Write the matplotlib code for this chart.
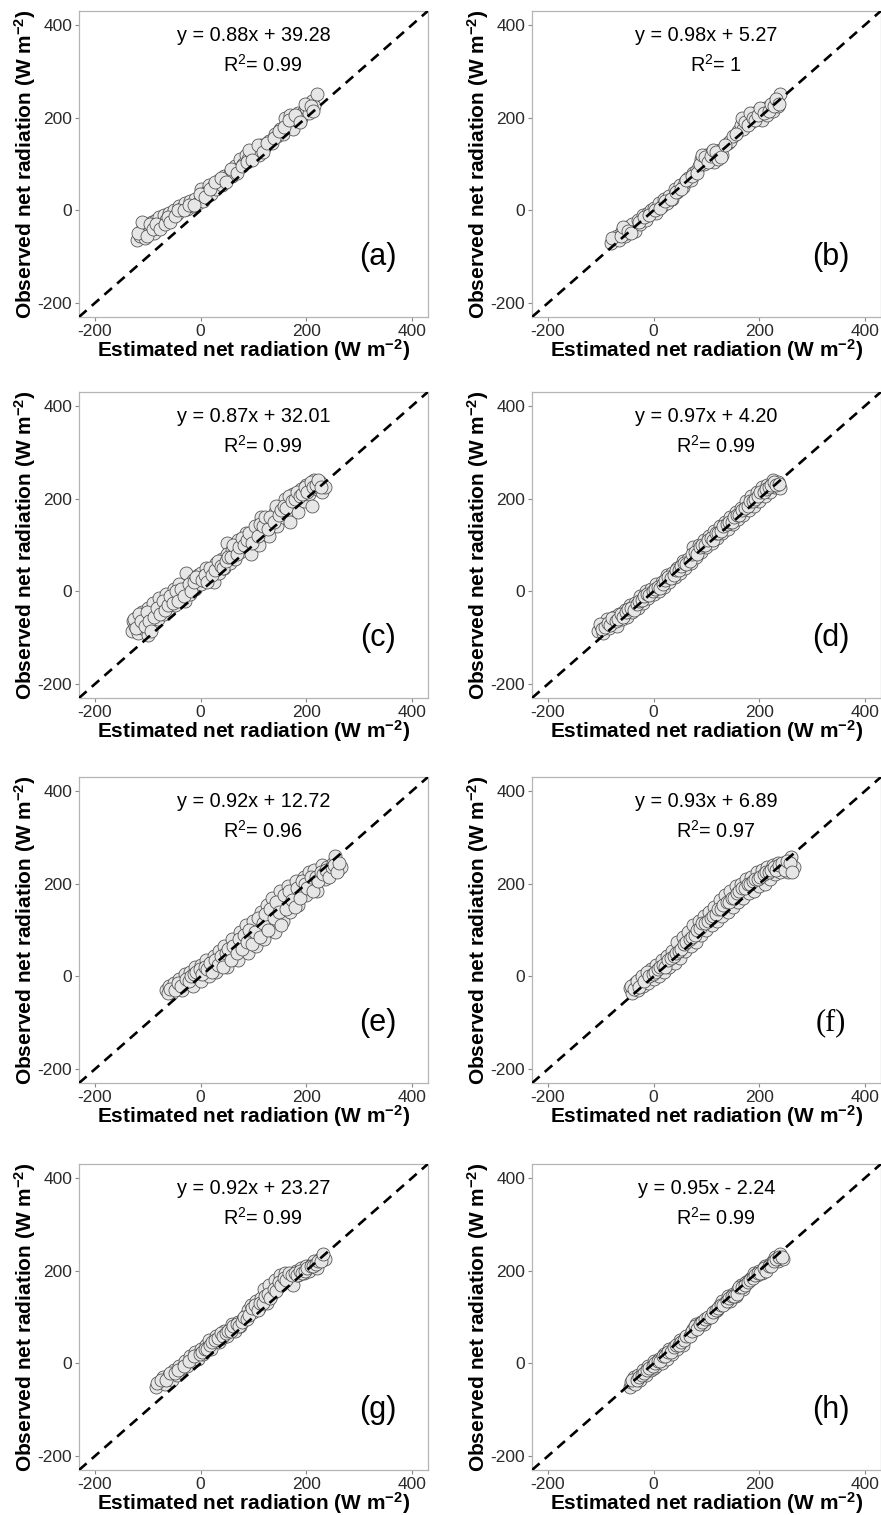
import numpy as np
import matplotlib.pyplot as plt

plt.rcParams['font.family'] = ['Liberation Sans', 'DejaVu Sans']
plt.rcParams['axes.unicode_minus'] = False
plt.rcParams['mathtext.default'] = 'regular'

# panel letters, fit equations and R2
letters = ['a', 'b', 'c', 'd', 'e', 'f', 'g', 'h']
equations = ['y = 0.88x + 39.28', 'y = 0.98x + 5.27', 'y = 0.87x + 32.01', 'y = 0.97x + 4.20',
             'y = 0.92x + 12.72', 'y = 0.93x + 6.89', 'y = 0.92x + 23.27', 'y = 0.95x - 2.24']
r2_values = ['0.99', '1', '0.99', '0.99', '0.96', '0.97', '0.99', '0.99']
ticks = [-200, 0, 200, 400]

# (estimated, observed) pairs, estimated by eye from each panel
pts_a = [(-120, -65), (-115, -55), (-112, -45), (-108, -35), (-105, -60), (-100, -30), (-100, -45),
         (-95, -40), (-92, -25), (-88, -50), (-85, -20), (-80, -35), (-78, -15), (-72, -25), (-70, -10),
         (-65, -20), (-60, -5), (-55, -15), (-50, 0), (-45, -8), (-40, 10), (-35, 5), (-30, 15), (-25, 2),
         (-20, 20), (-15, 10), (-10, 25), (-5, 15), (0, 30), (0, 45), (5, 20), (10, 40), (15, 55), (20, 35),
         (25, 55), (30, 45), (35, 65), (40, 55), (45, 75), (50, 70), (55, 80), (60, 75), (65, 95), (70, 90),
         (75, 110), (80, 100), (85, 120), (90, 110), (95, 125), (100, 115), (105, 130), (110, 120),
         (115, 140), (120, 135), (130, 150), (135, 145), (140, 165), (145, 160), (150, 175), (155, 165),
         (160, 200), (165, 185), (170, 205), (175, 175), (180, 195), (185, 210), (190, 200), (195, 215),
         (200, 220), (205, 210), (210, 235), (215, 225), (220, 250),
         (-118, -50), (-110, -25), (-102, -55), (-96, -30), (-90, -40), (-84, -30), (-76, -40), (-68, -30),
         (-62, -15), (-58, -25), (-48, -12), (-42, 0), (-32, 0), (-22, 12), (-12, 12), (-2, 35), (8, 28),
         (18, 45), (28, 60), (38, 70), (48, 60), (58, 88), (68, 80), (78, 95), (88, 105), (92, 130),
         (98, 108), (108, 140), (118, 125), (125, 145), (138, 155), (148, 170), (158, 180), (168, 195),
         (178, 205), (188, 190), (198, 230), (208, 225), (212, 215)]
pts_b = [(-80, -70), (-75, -60), (-70, -55), (-65, -65), (-60, -45), (-55, -55), (-50, -35), (-50, -50),
         (-45, -40), (-40, -30), (-35, -45), (-30, -20), (-25, -30), (-20, -10), (-15, -20), (-10, -5),
         (-5, 0), (0, 5), (5, -5), (10, 15), (15, 10), (20, 25), (25, 15), (30, 30), (35, 25), (40, 45),
         (45, 40), (50, 55), (55, 50), (60, 60), (65, 70), (70, 65), (75, 80), (80, 85), (85, 95), (90, 110),
         (95, 100), (100, 120), (105, 110), (110, 125), (115, 105), (120, 115), (125, 130), (130, 120),
         (140, 145), (145, 150), (150, 160), (160, 170), (165, 185), (170, 175), (175, 195), (180, 200),
         (185, 190), (190, 210), (195, 200), (200, 215), (205, 195), (210, 220), (215, 205), (220, 225),
         (225, 215), (230, 235), (235, 225), (240, 250),
         (-78, -60), (-62, -55), (-58, -35), (-48, -45), (-42, -50), (-28, -25), (-18, -15), (-8, -10),
         (2, 0), (12, 5), (22, 20), (32, 25), (42, 40), (52, 45), (62, 65), (72, 75), (82, 80), (88, 100),
         (92, 120), (98, 115), (102, 105), (108, 118), (112, 130), (118, 125), (122, 110), (128, 115),
         (135, 140), (155, 165), (168, 200), (172, 190), (178, 185), (182, 210), (188, 200), (192, 195),
         (198, 205), (202, 220), (208, 210), (218, 215), (222, 230), (228, 225), (232, 240), (238, 230)]
pts_c = [(-130, -85), (-128, -65), (-125, -75), (-120, -55), (-118, -90), (-115, -70), (-110, -45),
         (-110, -80), (-105, -60), (-100, -95), (-100, -35), (-95, -50), (-92, -70), (-90, -25), (-85, -45),
         (-80, -60), (-78, -15), (-75, -35), (-70, -50), (-65, -5), (-65, -25), (-60, -40), (-55, -15),
         (-50, 5), (-48, -30), (-45, -10), (-40, 15), (-35, -5), (-30, -20), (-28, 40), (-25, 10), (-20, -5),
         (-15, 25), (-10, 5), (-5, 35), (0, 15), (0, 40), (5, 25), (10, 50), (15, 30), (20, 45), (25, 20),
         (30, 60), (35, 40), (40, 70), (45, 50), (50, 105), (50, 80), (55, 60), (60, 90), (65, 70), (70, 110),
         (75, 85), (80, 95), (85, 125), (90, 100), (95, 80), (100, 115), (105, 135), (110, 100), (115, 160),
         (120, 130), (125, 150), (130, 120), (135, 145), (140, 170), (145, 140), (150, 185), (155, 160),
         (160, 200), (165, 175), (170, 150), (175, 210), (180, 190), (185, 170), (190, 220), (195, 195),
         (200, 230), (205, 210), (210, 185), (215, 240), (220, 220), (225, 235), (230, 215), (235, 225),
         (-126, -60), (-122, -80), (-116, -50), (-112, -65), (-106, -75), (-102, -45), (-98, -65),
         (-94, -85), (-88, -55), (-82, -35), (-76, -50), (-72, -20), (-68, -40), (-62, -30), (-58, -10),
         (-52, -25), (-46, 0), (-42, -20), (-38, 5), (-32, -10), (-22, 15), (-18, 0), (-12, 20), (-8, 30),
         (2, 25), (8, 35), (12, 20), (18, 50), (22, 35), (28, 45), (32, 65), (38, 55), (42, 50), (48, 65),
         (52, 75), (58, 75), (62, 100), (68, 80), (72, 95), (78, 115), (82, 100), (88, 110), (92, 125),
         (98, 105), (102, 140), (108, 120), (112, 145), (118, 140), (122, 160), (128, 135), (132, 160),
         (138, 150), (142, 185), (148, 165), (152, 175), (158, 185), (162, 180), (168, 205), (172, 195),
         (178, 200), (182, 215), (188, 205), (192, 210), (198, 225), (202, 215), (208, 235), (212, 225),
         (218, 230), (222, 240), (228, 225)]
pts_d = [(-105, -85), (-100, -75), (-95, -90), (-90, -70), (-88, -60), (-85, -80), (-80, -65), (-75, -55),
         (-70, -75), (-65, -50), (-60, -60), (-55, -40), (-50, -55), (-45, -30), (-40, -45), (-35, -25),
         (-30, -35), (-25, -10), (-20, -25), (-15, 0), (-10, -15), (-5, 5), (0, -5), (5, 15), (10, 0),
         (15, 20), (20, 10), (25, 35), (30, 20), (35, 40), (40, 30), (45, 50), (50, 40), (55, 65), (60, 50),
         (65, 70), (70, 60), (75, 95), (80, 75), (85, 100), (90, 85), (95, 110), (100, 95), (105, 120),
         (110, 105), (115, 130), (120, 115), (125, 140), (130, 125), (135, 150), (140, 135), (145, 160),
         (150, 145), (155, 170), (160, 155), (165, 180), (170, 165), (175, 195), (180, 175), (185, 205),
         (190, 185), (195, 215), (200, 195), (205, 225), (210, 205), (215, 230), (220, 215), (225, 240),
         (230, 225), (235, 235), (240, 222),
         (-102, -70), (-98, -82), (-92, -78), (-86, -68), (-82, -72), (-78, -58), (-72, -65), (-68, -60),
         (-62, -48), (-58, -55), (-52, -45), (-48, -38), (-42, -35), (-38, -40), (-32, -28), (-28, -20),
         (-22, -18), (-18, -10), (-12, -5), (-8, -8), (-2, 0), (2, 5), (8, 10), (12, 8), (18, 15), (22, 25),
         (28, 30), (32, 28), (38, 35), (42, 45), (48, 45), (52, 55), (58, 60), (62, 58), (68, 65), (72, 80),
         (78, 85), (82, 80), (88, 95), (92, 100), (98, 100), (102, 110), (108, 115), (112, 110), (118, 125),
         (122, 125), (128, 130), (132, 140), (138, 145), (142, 150), (148, 150), (152, 160), (158, 165),
         (162, 165), (168, 175), (172, 180), (178, 185), (182, 195), (188, 195), (192, 200), (198, 205),
         (202, 215), (208, 215), (212, 220), (218, 225), (222, 230), (228, 235), (232, 230), (238, 232)]
pts_e = [(-65, -30), (-60, -20), (-55, -35), (-50, -15), (-45, -25), (-40, -5), (-35, -30), (-30, 5),
         (-25, -15), (-20, 10), (-15, -20), (-10, 20), (-5, 0), (0, 25), (0, -10), (5, 10), (10, 35), (15, 0),
         (20, 20), (25, 45), (30, 10), (35, 55), (40, 30), (45, 65), (50, 20), (55, 40), (60, 80), (65, 55),
         (70, 35), (75, 95), (80, 70), (85, 110), (90, 50), (95, 85), (100, 120), (105, 65), (110, 100),
         (115, 140), (120, 80), (125, 155), (130, 115), (135, 170), (140, 95), (145, 135), (150, 185),
         (155, 120), (160, 160), (165, 195), (170, 140), (175, 180), (180, 205), (185, 155), (190, 190),
         (195, 215), (200, 175), (205, 225), (210, 200), (215, 230), (220, 185), (225, 215), (230, 240),
         (235, 210), (240, 235), (245, 225), (250, 245), (255, 260), (260, 230), (265, 235),
         (-62, -35), (-58, -28), (-48, -30), (-42, -15), (-38, -20), (-28, -5), (-22, -10), (-18, 0),
         (-12, 5), (-8, 10), (-2, 15), (2, 5), (8, 20), (12, 15), (18, 30), (22, 10), (28, 35), (32, 25),
         (38, 45), (42, 20), (48, 50), (52, 60), (58, 35), (62, 65), (68, 50), (72, 80), (78, 60), (82, 90),
         (88, 75), (92, 100), (98, 70), (102, 95), (108, 125), (112, 85), (118, 115), (122, 135), (128, 100),
         (132, 145), (138, 125), (142, 160), (148, 140), (152, 110), (158, 175), (162, 145), (168, 185),
         (172, 165), (178, 150), (182, 190), (188, 170), (192, 205), (198, 200), (202, 190), (208, 215),
         (212, 185), (218, 215), (222, 205), (228, 225), (232, 220), (238, 230), (242, 215), (248, 235),
         (252, 240), (258, 225), (262, 245)]
pts_f = [(-45, -25), (-40, -35), (-35, -15), (-30, -30), (-25, -5), (-20, -20), (-15, 5), (-10, -15),
         (-5, 15), (0, -5), (5, 25), (10, 0), (15, 35), (20, 10), (25, 45), (30, 20), (35, 55), (40, 30),
         (45, 75), (50, 40), (55, 85), (60, 55), (65, 95), (70, 65), (75, 110), (80, 75), (85, 120), (90, 90),
         (95, 130), (100, 100), (105, 140), (110, 110), (115, 150), (120, 120), (125, 165), (130, 130),
         (135, 175), (140, 140), (145, 185), (150, 150), (155, 195), (160, 160), (165, 200), (170, 170),
         (175, 210), (180, 180), (185, 215), (190, 185), (195, 225), (200, 195), (205, 230), (210, 200),
         (215, 235), (220, 210), (225, 240), (230, 220), (235, 245), (240, 225), (245, 235), (250, 240),
         (255, 225), (260, 258), (265, 235),
         (-42, -20), (-38, -28), (-32, -10), (-28, -22), (-22, 0), (-18, -10), (-12, 10), (-8, 0), (-2, 5),
         (2, 10), (8, 15), (12, 20), (18, 25), (22, 20), (28, 35), (32, 40), (38, 45), (42, 50), (48, 55),
         (52, 60), (58, 70), (62, 75), (68, 80), (72, 85), (78, 90), (82, 100), (88, 105), (92, 115),
         (98, 115), (102, 120), (108, 125), (112, 130), (118, 135), (122, 145), (128, 145), (132, 155),
         (138, 160), (142, 160), (148, 170), (152, 170), (158, 180), (162, 185), (168, 190), (172, 190),
         (178, 200), (182, 200), (188, 205), (192, 210), (198, 210), (202, 215), (208, 220), (212, 225),
         (218, 225), (222, 230), (228, 235), (232, 230), (238, 240), (242, 245), (248, 230), (252, 250),
         (258, 245), (262, 225)]
pts_g = [(-85, -50), (-78, -40), (-72, -30), (-68, -45), (-60, -25), (-55, -35), (-50, -15), (-45, -25),
         (-40, -5), (-35, -10), (-30, 5), (-25, -5), (-20, 15), (-15, 5), (-10, 25), (-5, 10), (0, 30),
         (5, 20), (10, 40), (15, 50), (20, 30), (25, 45), (30, 60), (35, 45), (40, 55), (45, 70), (50, 60),
         (55, 75), (60, 85), (65, 70), (70, 90), (75, 80), (80, 95), (85, 105), (90, 115), (95, 125),
         (100, 110), (105, 135), (110, 120), (115, 140), (120, 160), (125, 130), (130, 170), (135, 150),
         (140, 180), (145, 165), (150, 190), (155, 175), (160, 195), (165, 180), (170, 185), (175, 170),
         (180, 200), (185, 190), (190, 205), (195, 195), (200, 210), (205, 200), (210, 215), (215, 220),
         (220, 205), (225, 225), (230, 230), (235, 225),
         (-82, -42), (-75, -35), (-65, -35), (-58, -20), (-48, -20), (-42, -15), (-32, -5), (-22, 5),
         (-12, 15), (-2, 20), (2, 25), (8, 30), (12, 30), (18, 40), (22, 45), (28, 50), (32, 55), (38, 65),
         (42, 60), (48, 65), (52, 70), (58, 70), (62, 80), (68, 85), (72, 80), (78, 90), (82, 100), (88, 95),
         (92, 105), (98, 120), (102, 125), (108, 115), (112, 130), (118, 130), (122, 145), (128, 150),
         (132, 140), (138, 160), (142, 155), (148, 175), (152, 170), (158, 185), (162, 180), (168, 195),
         (172, 190), (178, 195), (182, 190), (188, 200), (192, 195), (198, 200), (202, 205), (208, 210),
         (212, 210), (218, 215), (222, 220), (228, 220), (232, 235)]
pts_h = [(-45, -50), (-42, -40), (-38, -30), (-35, -45), (-30, -25), (-25, -35), (-20, -15), (-15, -25),
         (-10, -5), (-5, -15), (0, 5), (0, -10), (5, -5), (10, 10), (15, 0), (20, 20), (25, 10), (30, 30),
         (35, 20), (40, 35), (45, 30), (50, 50), (55, 40), (60, 55), (65, 60), (70, 65), (75, 75), (80, 85),
         (85, 80), (90, 90), (95, 85), (100, 95), (105, 100), (110, 105), (115, 110), (120, 115), (125, 125),
         (130, 135), (135, 130), (140, 145), (145, 135), (150, 150), (155, 145), (160, 160), (165, 170),
         (170, 160), (175, 175), (180, 180), (185, 185), (190, 195), (195, 190), (200, 200), (205, 195),
         (210, 210), (215, 205), (220, 215), (225, 220), (230, 230), (235, 220), (240, 235), (245, 225),
         (-40, -35), (-32, -35), (-28, -30), (-22, -25), (-18, -20), (-12, -15), (-8, -10), (-2, -5),
         (2, 0), (8, 5), (12, 5), (18, 15), (22, 15), (28, 25), (32, 25), (38, 35), (42, 40), (48, 40),
         (52, 45), (58, 50), (62, 60), (68, 60), (72, 70), (78, 80), (82, 75), (88, 85), (92, 90), (98, 95),
         (102, 100), (108, 100), (112, 110), (118, 115), (122, 120), (128, 125), (132, 125), (138, 135),
         (142, 140), (148, 145), (152, 145), (158, 150), (162, 165), (168, 165), (172, 170), (178, 175),
         (182, 180), (188, 185), (192, 190), (198, 195), (202, 195), (208, 205), (212, 200), (218, 210),
         (222, 210), (228, 220), (232, 225), (238, 230), (242, 230)]
all_pts = [pts_a, pts_b, pts_c, pts_d, pts_e, pts_f, pts_g, pts_h]

lim = (-230, 430)
lefts = [0.0897, 0.6039]
bottoms = [0.7908, 0.5393, 0.2851, 0.0297]
w, h = 0.396, 0.202

fig = plt.figure(figsize=(8.81, 15.15), dpi=100)

for i, pts in enumerate(all_pts):
    ax = fig.add_axes([lefts[i % 2], bottoms[i // 2], w, h])
    xy = np.array(pts, dtype=float)
    ax.scatter(xy[:, 0], xy[:, 1], s=88, facecolor='#e6e6e6', edgecolor='#4a4a4a',
               linewidth=0.55, zorder=2)
    ax.plot(lim, lim, color='black', lw=1.9, ls=(0, (3.8, 2.6)), zorder=3)
    ax.set_xlim(lim)
    ax.set_ylim(lim)
    ax.set_xticks(ticks)
    ax.set_yticks(ticks)
    ax.tick_params(length=3, width=0.8, color='#888888', labelsize=12.5, pad=2, labelcolor='#2a2a2a')
    for sp in ax.spines.values():
        sp.set_color('#b5b5b5')
        sp.set_linewidth(0.9)
    ax.text(0.5, 0.921, equations[i], transform=ax.transAxes, ha='center', va='center', fontsize=14.3)
    ax.text(0.526, 0.824, 'R$^2$= ' + r2_values[i], transform=ax.transAxes, ha='center', va='center',
            fontsize=14.3)
    fam = ['Liberation Serif'] if letters[i] == 'f' else ['Liberation Sans']
    ax.text(0.857, 0.196, '(' + letters[i] + ')', transform=ax.transAxes, ha='center', va='center',
            fontsize=22, family=fam)
    ax.set_xlabel('Estimated net radiation (W m$^{-2}$)', fontsize=15, fontweight='bold')
    ax.set_ylabel('Observed net radiation (W m$^{-2}$)', fontsize=15, fontweight='bold')
    ax.xaxis.set_label_coords(0.5, -0.108)
    ax.xaxis.label.set_va('center')
    ax.yaxis.set_label_coords(-0.155, 0.5)
    ax.yaxis.label.set_va('center')

fig.savefig('out.png', dpi=100)
